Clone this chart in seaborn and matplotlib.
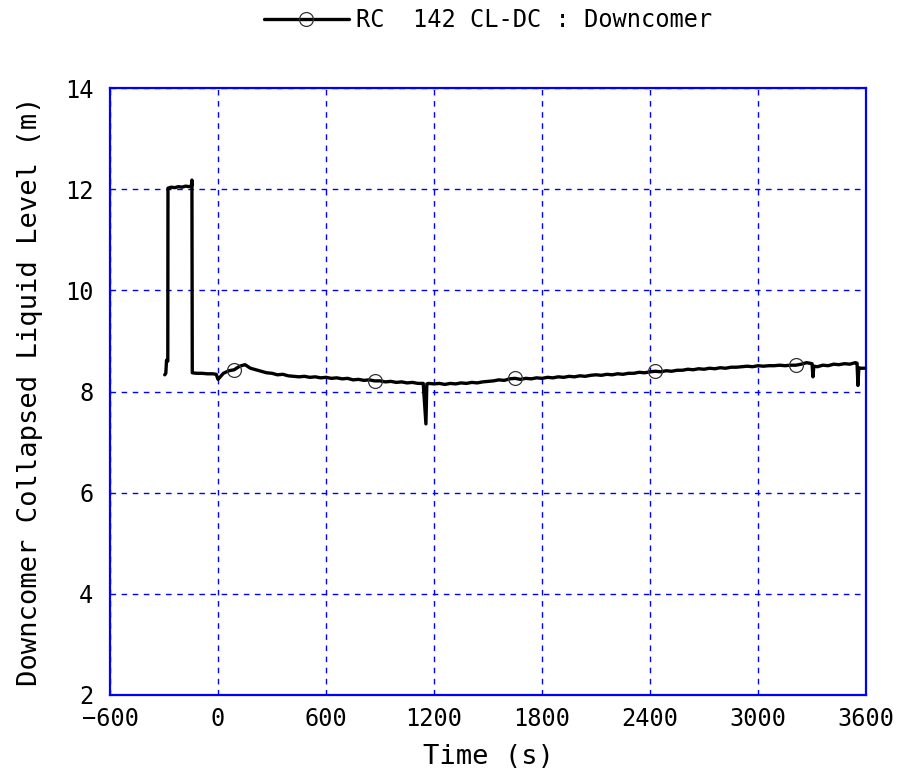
import numpy as np
import pandas as pd
import matplotlib
matplotlib.use("Agg")
import matplotlib.pyplot as plt
import seaborn as sns

# Downcomer collapsed liquid level, RC 142 CL-DC
time_s = [
    -296, -290, -286, -279, -278, -260, -240, -220, -200, -180, -160, -146, -145, -143,
    -120, -90, -60, -30, -10,
    0, 30, 60, 90, 120, 150, 180, 210, 240, 270, 300, 330, 360, 390, 420, 450, 480,
    510, 540, 570, 600, 630, 660, 690, 720, 750, 780, 810, 840, 870, 900, 930, 960,
    990, 1020, 1050, 1080, 1110, 1140, 1155, 1160, 1170, 1200, 1230, 1260, 1290, 1320,
    1350, 1380, 1410, 1440, 1470, 1500, 1530, 1560, 1590, 1620, 1650, 1680, 1710, 1740,
    1770, 1800, 1830, 1860, 1890, 1920, 1950, 1980, 2010, 2040, 2070, 2100, 2130, 2160,
    2190, 2220, 2250, 2280, 2310, 2340, 2370, 2400, 2430, 2460, 2490, 2520, 2550, 2580,
    2610, 2640, 2670, 2700, 2730, 2760, 2790, 2820, 2850, 2880, 2910, 2940, 2970, 3000,
    3030, 3060, 3090, 3120, 3150, 3180, 3210, 3240, 3270, 3300, 3305, 3310, 3330, 3360,
    3390, 3420, 3450, 3480, 3510, 3540, 3550, 3555, 3560, 3570, 3600,
]
level_m = [
    8.33, 8.36, 8.62, 8.60, 12.02, 12.04, 12.03, 12.05, 12.04, 12.06, 12.05, 12.07, 12.18, 8.37,
    8.36, 8.36, 8.35, 8.35, 8.34,
    8.24, 8.36, 8.41, 8.43, 8.50, 8.53, 8.46, 8.43, 8.40, 8.37, 8.36, 8.33, 8.34, 8.31, 8.30, 8.29, 8.30,
    8.28, 8.29, 8.27, 8.28, 8.26, 8.27, 8.25, 8.26, 8.23, 8.24, 8.22, 8.23, 8.21, 8.21, 8.19, 8.20,
    8.18, 8.19, 8.17, 8.18, 8.16, 8.16, 7.36, 8.15, 8.16, 8.15, 8.16, 8.14, 8.16, 8.15,
    8.17, 8.16, 8.18, 8.17, 8.19, 8.20, 8.21, 8.23, 8.22, 8.25, 8.26, 8.24, 8.26, 8.25,
    8.27, 8.26, 8.28, 8.27, 8.29, 8.28, 8.30, 8.29, 8.31, 8.30, 8.32, 8.33, 8.32, 8.34,
    8.33, 8.35, 8.34, 8.36, 8.36, 8.38, 8.37, 8.39, 8.40, 8.39, 8.41, 8.40, 8.42, 8.42,
    8.44, 8.43, 8.45, 8.44, 8.46, 8.45, 8.47, 8.46, 8.48, 8.48, 8.49, 8.50, 8.49, 8.51,
    8.50, 8.51, 8.51, 8.52, 8.51, 8.52, 8.52, 8.54, 8.57, 8.55, 8.29, 8.50, 8.49, 8.52,
    8.51, 8.54, 8.53, 8.55, 8.54, 8.57, 8.56, 8.12, 8.47, 8.46, 8.46,
]
marker_times = [90, 870, 1650, 2430, 3210]

series_label = "RC  142 CL-DC : Downcomer"
x_ticks = [-600, 0, 600, 1200, 1800, 2400, 3000, 3600]
y_ticks = [2, 4, 6, 8, 10, 12, 14]

df = pd.DataFrame({"Time (s)": time_s, "Level (m)": level_m})
marker_idx = [int(i) for i in np.flatnonzero(np.isin(df["Time (s)"], marker_times))]

sns.set_style("white")
plt.rcParams["font.family"] = ["DejaVu Sans Mono", "DejaVu Sans"]
plt.rcParams["text.color"] = "black"
plt.rcParams["axes.labelcolor"] = "black"

blue = "#0000ff"
fig = plt.figure(figsize=(9.01, 7.83), dpi=100)
ax = fig.add_axes([0.1221, 0.1124, 0.8391, 0.7752])

sns.lineplot(
    data=df, x="Time (s)", y="Level (m)", ax=ax,
    sort=False, estimator=None, color="black", linewidth=2.4,
    marker="o", markevery=marker_idx, markersize=10,
    markerfacecolor="none", markeredgecolor="#333333", markeredgewidth=0.9,
    label=series_label, zorder=3,
)

ax.set_xlim(-600, 3600)
ax.set_ylim(2, 14)
ax.set_xticks(x_ticks)
ax.set_yticks(y_ticks)
ax.set_xticklabels([str(v).replace("-", "\u2212") for v in x_ticks])
ax.set_yticklabels([str(v) for v in y_ticks])

ax.grid(True, color=blue, linestyle=(0, (4, 4)), linewidth=1.0)
ax.set_axisbelow(True)
for sp in ax.spines.values():
    sp.set_color(blue)
    sp.set_linewidth(1.6)
ax.tick_params(direction="in", length=7, width=1, color=blue,
               labelsize=17, labelcolor="black")
ax.tick_params(axis="x", pad=9)
ax.tick_params(axis="y", pad=12)

ax.set_xlabel("Time (s)", fontsize=19.5, labelpad=9)
ax.set_ylabel("Downcomer Collapsed Liquid Level (m)", fontsize=19.5, labelpad=16)

ax.legend(loc="lower center", bbox_to_anchor=(0.5, 1.076), frameon=False,
          fontsize=17, handlelength=3.6, handletextpad=0.3, borderaxespad=0)

fig.savefig("out.png", dpi=100)
